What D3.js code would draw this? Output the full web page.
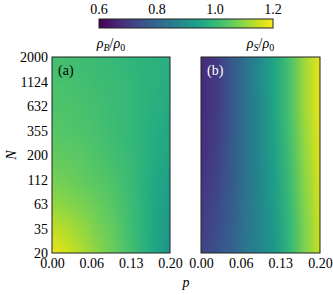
<!DOCTYPE html>
<html><head><meta charset="utf-8">
<script src="https://cdn.jsdelivr.net/npm/d3@7"></script>
<style>
body{margin:0;background:#fff}
svg{display:block}
</style></head>
<body><svg id="c" width="333" height="295" font-family="'Liberation Serif', 'Times New Roman', Times, serif"></svg>
<script>
// ---- data ----
const pValues = [0, 0.025, 0.05, 0.075, 0.1, 0.125, 0.15, 0.175, 0.2];
const nValues = [2000, 1124, 632, 355, 200, 112, 63, 35, 20];
const xTickValues = [0, 0.2/3, 0.4/3, 0.2];
const xTickLabels = ["0.00", "0.06", "0.13", "0.20"];
const yTickValues = [20, 35, 63, 112, 200, 355, 632, 1124, 2000];
const cbTicks = [0.6, 0.8, 1.0, 1.2];
const cbLabels = ["0.6", "0.8", "1.0", "1.2"];
// rho_B / rho_0 : rows follow nValues (top to bottom), columns follow pValues
const rhoB = [
  [1.020,1.020,1.014,1.008,1.002,0.996,0.990,0.984,0.978],
  [1.026,1.026,1.020,1.014,1.008,1.002,0.990,0.984,0.972],
  [1.032,1.032,1.026,1.020,1.008,1.002,0.990,0.978,0.966],
  [1.044,1.038,1.032,1.026,1.014,1.002,0.990,0.972,0.960],
  [1.056,1.050,1.044,1.032,1.020,1.008,0.990,0.966,0.954],
  [1.074,1.068,1.056,1.044,1.032,1.014,0.990,0.960,0.942],
  [1.104,1.092,1.080,1.062,1.044,1.020,0.990,0.954,0.930],
  [1.146,1.128,1.104,1.080,1.056,1.026,0.990,0.954,0.918],
  [1.182,1.158,1.128,1.098,1.068,1.032,0.996,0.954,0.906]
];
// rho_S / rho_0
const rhoS = [
  [0.672,0.702,0.762,0.828,0.894,0.960,1.032,1.116,1.182],
  [0.672,0.702,0.762,0.828,0.894,0.960,1.032,1.116,1.182],
  [0.672,0.702,0.762,0.828,0.888,0.960,1.032,1.116,1.182],
  [0.678,0.708,0.762,0.828,0.888,0.954,1.026,1.110,1.176],
  [0.684,0.714,0.768,0.828,0.888,0.948,1.020,1.104,1.170],
  [0.690,0.720,0.768,0.828,0.882,0.942,1.014,1.098,1.164],
  [0.702,0.732,0.774,0.834,0.882,0.936,1.008,1.092,1.158],
  [0.708,0.738,0.780,0.834,0.876,0.930,1.002,1.086,1.152],
  [0.720,0.750,0.786,0.840,0.876,0.924,1.002,1.086,1.152]
];

// ---- drawing ----
const FONT = "'Liberation Serif', 'Times New Roman', Times, serif";
const svg = d3.select("#c");
const color = d3.scaleSequential(d3.interpolateViridis).domain([0.6, 1.2]);
const y = d3.scaleLog().domain([20, 2000]).range([253, 57]);
const FS = 14;

const panels = [
  {data: rhoB, x0: 52, x1: 170, label: "(a)", lc: "#000", sub: "B"},
  {data: rhoS, x0: 201, x1: 320, label: "(b)", lc: "#fff", sub: "S"}
];

panels.forEach((P, i) => {
  const x = d3.scaleLinear().domain([0, 0.2]).range([P.x0, P.x1]);
  const cols = pValues.length, rows = nValues.length;
  const cv = document.createElement("canvas");
  cv.width = cols; cv.height = rows;
  const ctx = cv.getContext("2d");
  const img = ctx.createImageData(cols, rows);
  P.data.forEach((row, r) => row.forEach((v, c) => {
    const col = d3.rgb(color(v));
    const k = (r * cols + c) * 4;
    img.data[k] = col.r; img.data[k+1] = col.g; img.data[k+2] = col.b; img.data[k+3] = 255;
  }));
  ctx.putImageData(img, 0, 0);
  const dx = (x(pValues[1]) - x(pValues[0]));
  const yTop = y(nValues[0]), yBot = y(nValues[rows-1]);
  const dy = (yBot - yTop) / (rows - 1);
  const clipId = "clip" + i;
  svg.append("clipPath").attr("id", clipId).append("rect")
    .attr("x", P.x0).attr("y", 57).attr("width", P.x1 - P.x0).attr("height", 196);
  svg.append("image")
    .attr("href", cv.toDataURL())
    .attr("x", x(pValues[0]) - dx/2).attr("y", yTop - dy/2)
    .attr("width", dx * cols).attr("height", dy * rows)
    .attr("preserveAspectRatio", "none")
    .attr("clip-path", `url(#${clipId})`);
  svg.append("rect").attr("x", P.x0).attr("y", 57)
    .attr("width", P.x1 - P.x0).attr("height", 196)
    .attr("fill", "none").attr("stroke", "#222").attr("stroke-width", 1);

  const xa = svg.append("g").attr("transform", "translate(0,253)")
    .call(d3.axisBottom(x).tickValues(xTickValues).tickSize(0).tickPadding(5)
      .tickFormat((d, j) => xTickLabels[j]));
  xa.attr("font-family", FONT).attr("font-size", FS);
  xa.select(".domain").remove();
  xa.selectAll("text").attr("fill", "#000");

  svg.append("text").attr("x", P.x0 + 6).attr("y", 75).attr("font-size", FS)
    .attr("font-family", FONT).attr("fill", P.lc).text(P.label);

  const t = svg.append("text").attr("x", (P.x0 + P.x1) / 2).attr("y", 48)
    .attr("text-anchor", "middle").attr("font-size", FS).attr("font-family", FONT);
  t.append("tspan").attr("font-style", "italic").text("ρ");
  t.append("tspan").attr("font-style", "italic").attr("font-size", 10).attr("dy", 3).text(P.sub);
  t.append("tspan").attr("dy", -3).text("/");
  t.append("tspan").attr("font-style", "italic").text("ρ");
  t.append("tspan").attr("font-size", 10).attr("dy", 3).text("0");
});

const ya = svg.append("g").attr("transform", "translate(52,0)")
  .call(d3.axisLeft(y).tickValues(yTickValues).tickSize(0).tickPadding(4)
    .tickFormat(d3.format("d")));
ya.attr("font-family", FONT).attr("font-size", FS);
ya.select(".domain").remove();
ya.selectAll("text").attr("fill", "#000");

svg.append("text").attr("x", 186).attr("y", 287).attr("text-anchor", "middle")
  .attr("font-family", FONT).attr("font-size", FS).attr("font-style", "italic").text("p");
svg.append("text").attr("transform", "translate(16,155) rotate(-90)")
  .attr("text-anchor", "middle").attr("font-family", FONT).attr("font-size", FS)
  .attr("font-style", "italic").text("N");

// colorbar
const cx = d3.scaleLinear().domain([0.6, 1.2]).range([99, 273]);
const grad = svg.append("defs").append("linearGradient").attr("id", "cbg")
  .attr("x1", "0%").attr("x2", "100%");
d3.range(0, 1.0001, 0.05).forEach(f => {
  grad.append("stop").attr("offset", (f * 100) + "%").attr("stop-color", color(0.6 + f * 0.6));
});
svg.append("rect").attr("x", cx(0.6)).attr("y", 19).attr("width", cx(1.2) - cx(0.6)).attr("height", 9)
  .attr("fill", "url(#cbg)").attr("stroke", "#222").attr("stroke-width", 1);
svg.append("g").selectAll("text").data(cbTicks).join("text")
  .attr("x", d => cx(d)).attr("y", 14).attr("text-anchor", "middle")
  .attr("font-family", FONT).attr("font-size", FS)
  .text((d, j) => cbLabels[j]);
</script>
</body></html>
